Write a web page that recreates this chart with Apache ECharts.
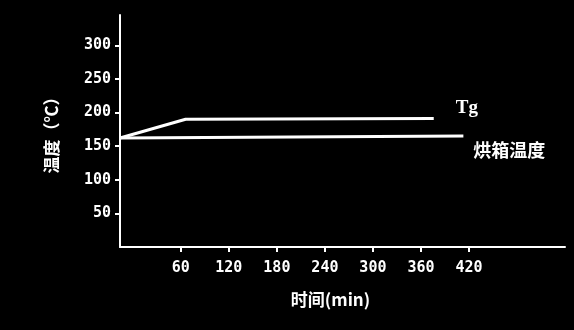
<!DOCTYPE html>
<html><head><meta charset="utf-8">
<script src="https://cdn.jsdelivr.net/npm/echarts@6/dist/echarts.min.js"></script>
<style>html,body{margin:0;padding:0;background:#000;}#c{width:574px;height:330px;}</style>
</head><body><div id="c"></div>
<script>
var xTicks = [60, 120, 180, 240, 300, 360, 420];
var tgTime = [-16, 66, 376];
var tgTemp = [162, 190, 191];
var ovenTime = [-16, 413];
var ovenTemp = [162, 165];
var yTicks = [50, 100, 150, 200, 250, 300];
var tgName = 'Tg';
var ovenName = '烘箱温度';

var chart = echarts.init(document.getElementById('c'));
var lbl = {color:'#fff', fontFamily:'DejaVu Sans Mono', fontWeight:'bold', fontSize:15};
chart.setOption({
  backgroundColor:'#000',
  animation:false,
  grid:{left:120, right:9, top:15, bottom:83},
  xAxis:{type:'value', min:-16, max:540,
    name:'时间(min)', nameLocation:'middle', nameGap:44,
    nameTextStyle:{color:'#fff', fontSize:17, fontWeight:'bold', fontFamily:'Noto Sans CJK SC', padding:[0,24,0,0]},
    axisLine:{onZero:false, lineStyle:{color:'#fff', width:2}},
    axisTick:{show:true, customValues:xTicks, length:5, lineStyle:{color:'#fff', width:2}},
    axisLabel:Object.assign({customValues:xTicks, margin:14}, lbl),
    splitLine:{show:false}},
  yAxis:{type:'value', min:0, max:345,
    name:'温度（℃）', nameLocation:'middle', nameGap:60,
    nameTextStyle:{color:'#fff', fontSize:17, fontWeight:'bold', fontFamily:'Noto Sans CJK SC'},
    axisLine:{show:true, onZero:false, lineStyle:{color:'#fff', width:2}},
    axisTick:{show:true, customValues:yTicks, length:5, lineStyle:{color:'#fff', width:2}},
    axisLabel:Object.assign({customValues:yTicks, margin:9}, lbl),
    splitLine:{show:false}},
  series:[
    {type:'line', name:tgName, data:tgTime.map(function(t,i){return [t,tgTemp[i]];}),
     symbol:'none', lineStyle:{color:'#fff', width:3},
     endLabel:{show:true, formatter:tgName, color:'#fff', fontFamily:'Liberation Serif', fontSize:19, fontWeight:'bold', offset:[14,-10]}},
    {type:'line', name:ovenName, data:ovenTime.map(function(t,i){return [t,ovenTemp[i]];}),
     symbol:'none', lineStyle:{color:'#fff', width:3},
     endLabel:{show:true, formatter:ovenName, color:'#fff', fontFamily:'Noto Sans CJK SC', fontSize:18, fontWeight:'bold', offset:[2,14]}}
  ]
});
</script></body></html>
